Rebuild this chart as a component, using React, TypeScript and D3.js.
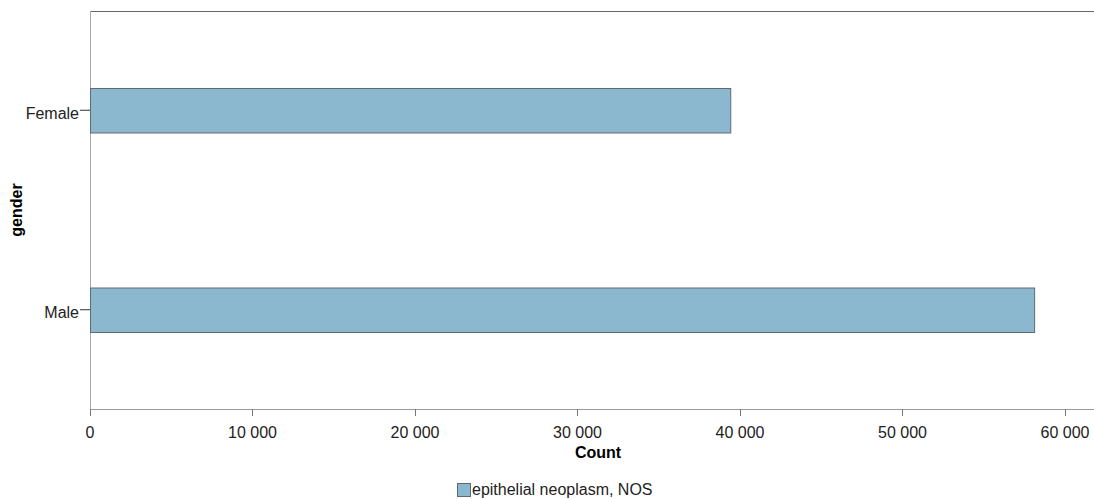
import React from "react";
import * as d3 from "d3";

const categories = ["Female", "Male"];
const values = [39400, 58100];
const xTicks = [0, 10000, 20000, 30000, 40000, 50000, 60000];
const seriesName = "epithelial neoplasm, NOS";

export default function App() {
  const W = 1094, H = 499;
  const left = 90, top = 11, bottom = 409, right = 1094;
  const x = d3.scaleLinear().domain([0, 61785]).range([left, right]);
  const y = d3.scaleBand().domain(categories).range([top, bottom]).paddingInner(0.777).paddingOuter(0.386);
  const fmt = (v: number) => d3.format(",")(v).replace(/,/g, " ");
  const font = "'Liberation Sans', Arial, sans-serif";
  return (
    <svg width={W} height={H} style={{ position: "absolute", left: 0, top: 0, fontFamily: font }}>
      <rect width={W} height={H} fill="#fff" />
      <line x1={left} x2={right} y1={top + 0.5} y2={top + 0.5} stroke="#666" />
      <line x1={left + 0.5} x2={left + 0.5} y1={top} y2={bottom + 7} stroke="#aaa" />
      <line x1={left} x2={right} y1={bottom + 0.5} y2={bottom + 0.5} stroke="#999" />
      {categories.map((c, i) => (
        <g key={c}>
          <rect x={x(0) + 0.5} y={(y(c) as number) + 0.5} width={x(values[i]) - x(0)} height={y.bandwidth()}
            fill="#8cb8cf" stroke="#5f6b73" />
          <line x1={left - 10} x2={left} y1={(y(c) as number) + y.bandwidth() / 2} y2={(y(c) as number) + y.bandwidth() / 2} stroke="#333" />
          <text x={left - 11} y={(y(c) as number) + y.bandwidth() / 2 + 3} dy="0.35em" textAnchor="end" fontSize={16} fill="#222">{c}</text>
        </g>
      ))}
      {xTicks.map(t => (
        <g key={t}>
          <line x1={Math.round(x(t)) + 0.5} x2={Math.round(x(t)) + 0.5} y1={bottom} y2={bottom + 7} stroke="#777" />
          <text x={x(t)} y={438} textAnchor="middle" fontSize={16} fill="#222">{fmt(t)}</text>
        </g>
      ))}
      <text x={(left + right) / 2 + 6} y={458} textAnchor="middle" fontSize={16} fontWeight="bold" fill="#000">Count</text>
      <text transform={`translate(22,${(top + bottom) / 2}) rotate(-90)`} textAnchor="middle" fontSize={16} fontWeight="bold" fill="#000">gender</text>
      <rect x={457.5} y={483.5} width={13} height={13} fill="#8cb8cf" stroke="#5f6b73" />
      <text x={472} y={495} fontSize={16} fill="#222">{seriesName}</text>
    </svg>
  );
}
